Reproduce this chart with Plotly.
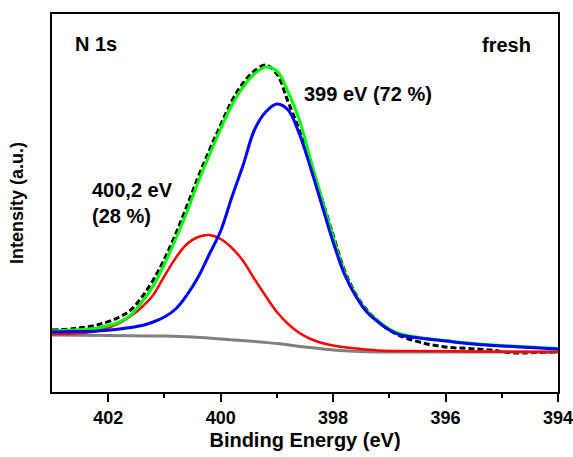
import plotly.graph_objects as go

# ---- data (binding energy in eV, intensity in arbitrary units) ----
gray_x = [403.0, 402.0, 401.0, 400.5, 400.0, 399.5, 399.0, 398.5, 398.0, 397.5, 397.0, 396.0, 395.0, 394.0]
gray_y = [57, 56.5, 56, 55, 53, 51, 48.5, 45, 42, 40.5, 40, 40, 40, 40]

red_x = [403.0, 402.6, 402.2, 401.8, 401.6, 401.4, 401.2, 401.0, 400.8, 400.6, 400.4, 400.2, 400.0,
         399.8, 399.6, 399.4, 399.2, 399.0, 398.8, 398.6, 398.4, 398.2, 398.0, 397.6, 397.2, 396.5, 395.5, 394.0]
red_y = [58, 58.5, 61, 69, 76, 85, 97, 116, 134, 148, 155, 157, 153,
         144, 131, 113, 96, 80, 68, 59, 53, 49, 46.5, 43.5, 41.5, 41, 40.5, 40]

blue_x = [403.0, 402.6, 402.2, 401.8, 401.4, 401.2, 401.0, 400.8, 400.6, 400.4, 400.2, 400.0,
          399.8, 399.6, 399.4, 399.2, 399.0, 398.8, 398.6, 398.4, 398.2, 398.0, 397.8, 397.6,
          397.4, 397.2, 397.0, 396.8, 396.4, 396.0, 395.5, 395.0, 394.5, 394.0]
blue_y = [60, 60.5, 61, 63, 66.5, 70, 75, 83, 97, 115, 138, 161,
          195, 227, 262, 280, 288, 282, 258, 224, 187, 150, 118, 96,
          80, 70, 62, 57, 53.5, 51, 48, 46, 44.5, 43]

green_x = [403.0, 402.6, 402.2, 401.8, 401.6, 401.4, 401.2, 401.0, 400.8, 400.6, 400.4, 400.2, 400.0,
           399.8, 399.6, 399.4, 399.2, 399.0, 398.8, 398.6, 398.4, 398.2, 398.0, 397.8, 397.6,
           397.4, 397.2, 397.0, 396.8, 396.4, 396.0, 395.5, 395.0, 394.5, 394.0]
green_y = [61, 62, 64, 70, 77, 90, 106, 128, 153, 180, 210, 237, 263,
           287, 305, 318, 325, 321, 300, 272, 232, 193, 155, 120, 97,
           81, 71, 63, 58, 54, 51.5, 48.5, 46.5, 45, 43.5]

exp_x = [403.0, 402.6, 402.2, 401.8, 401.6, 401.4, 401.2, 401.0, 400.8, 400.6, 400.4, 400.2, 400.0,
         399.8, 399.6, 399.4, 399.2, 399.0, 398.8, 398.6, 398.4, 398.2, 398.0, 397.8, 397.6,
         397.4, 397.2, 397.0, 396.8, 396.4, 396.0, 395.6, 395.2, 394.8, 394.4, 394.0]
exp_y = [62, 63.5, 67, 75, 82, 95, 112, 133, 158, 186, 215, 242, 267,
         291, 309, 321, 327, 318, 290, 262, 228, 193, 157, 122, 98,
         82, 71, 62, 56, 49, 45, 43.5, 42, 39, 39.5, 40]

x_ticks = [402, 400, 398, 396, 394]
x_tick_labels = ["402", "400", "398", "396", "394"]
x_minor_ticks = [401, 399, 397, 395]

fig = go.Figure()
fig.add_trace(go.Scatter(x=exp_x, y=exp_y, mode="lines", line=dict(color="black", width=3, dash="6px,3px", shape="spline")))
fig.add_trace(go.Scatter(x=gray_x, y=gray_y, mode="lines", line=dict(color="#808080", width=3, shape="spline")))
fig.add_trace(go.Scatter(x=red_x, y=red_y, mode="lines", line=dict(color="#ff0000", width=2.5, shape="spline")))
fig.add_trace(go.Scatter(x=green_x, y=green_y, mode="lines", line=dict(color="#00ff00", width=3, shape="spline")))
fig.add_trace(go.Scatter(x=blue_x, y=blue_y, mode="lines", line=dict(color="#0000ff", width=3, shape="spline")))

bold = "Liberation Sans, Arial, sans-serif"
ann_font = dict(family=bold, size=20, color="black", weight="bold")

def ann(text, x, y, xanchor="left"):
    fig.add_annotation(text=text, x=x, y=y, xref="paper", yref="paper", xanchor=xanchor, yanchor="middle",
                       showarrow=False, font=ann_font)

ann("N 1s", 0.042, 0.921)
ann("fresh", 0.950, 0.918, "right")
ann("399 eV (72 %)", 0.494, 0.788)
ann("400,2 eV", 0.076, 0.534)
ann("(28 %)", 0.076, 0.466)

fig.update_layout(
    width=573, height=457,
    margin=dict(l=52, r=15, t=14, b=65),
    showlegend=False,
    plot_bgcolor="white", paper_bgcolor="white",
    font=dict(family=bold, color="black", weight="bold"),
)
fig.update_xaxes(
    range=[403, 394], showline=True, linewidth=2, linecolor="black", mirror=True,
    ticks="outside", ticklen=8, tickwidth=2, tickcolor="black",
    tickvals=x_ticks, ticktext=x_tick_labels, ticklabeloverflow="allow",
    tickfont=dict(family=bold, size=18, weight="bold"),
    minor=dict(ticks="outside", ticklen=4, tickwidth=2, tickcolor="black", tickvals=x_minor_ticks),
    showgrid=False, zeroline=False, automargin=False,
    title=dict(text="Binding Energy (eV)", font=dict(size=20, family=bold, weight="bold"), standoff=6),
)
fig.update_yaxes(
    range=[0, 378], showline=True, linewidth=2, linecolor="black", mirror=True,
    ticks="", showticklabels=False, showgrid=False, zeroline=False, automargin=False,
    title=dict(text="Intensity (a.u.)", font=dict(size=18, family=bold, weight="bold"), standoff=22),
)

fig.write_html("out.html", config={"displayModeBar": False},
               post_script="document.body.style.margin='0';document.body.style.overflow='hidden';")
